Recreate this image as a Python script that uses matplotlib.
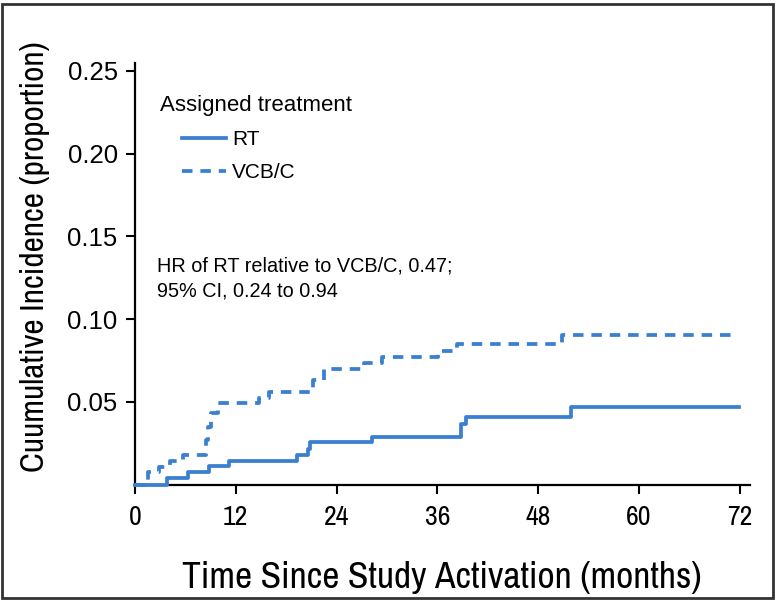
import matplotlib
matplotlib.use('Agg')
import matplotlib.pyplot as plt
from matplotlib import font_manager
from matplotlib.patches import Rectangle

# step curves (months, cumulative incidence)
rt_months = [0, 3.85, 6.35, 8.8, 11.2, 19.25, 20.55, 20.8, 28.2, 38.8, 39.4, 51.9, 71.9]
rt_values = [0, 0.0041, 0.0074, 0.0110, 0.0145, 0.0180, 0.0217, 0.0255, 0.0289, 0.0366, 0.0406, 0.0467, 0.0467]

vcb_months = [0, 1.5, 2.9, 4.2, 5.75, 8.45, 8.7, 9.1, 9.9, 14.7, 16.0, 21.2, 22.5, 27.2, 29.4, 36.1, 38.3, 50.8, 71.0]
vcb_values = [0, 0.0077, 0.0108, 0.0144, 0.0178, 0.027, 0.035, 0.043, 0.049, 0.0525, 0.0557, 0.063, 0.0698,
              0.0737, 0.0773, 0.081, 0.085, 0.0904, 0.0904]

x_ticks = [0, 12, 24, 36, 48, 60, 72]
y_ticks = [0.05, 0.10, 0.15, 0.20, 0.25]

blue = '#3a7fd0'
regular = ['Liberation Sans', 'DejaVu Sans']


def pick_condensed():
    faces = font_manager.fontManager.ttflist
    for name in ['Archivo Narrow', 'Asap Condensed', 'DejaVu Sans']:
        for f in faces:
            if f.name == name and f.weight in (400, 'normal') and f.style == 'normal' \
                    and (name != 'DejaVu Sans' or 'ondensed' in str(f.stretch)):
                return font_manager.FontProperties(fname=f.fname)
    return font_manager.FontProperties(family='Liberation Sans')


cond_prop = pick_condensed()

W, H = 777, 602
fig = plt.figure(figsize=(W / 100, H / 100), dpi=100)
ax = fig.add_axes([135 / W, 1 - 484.5 / H, (750 - 135) / W, (484.5 - 63) / H])

rt_line, = ax.step(rt_months, rt_values, where='post', color=blue, lw=2.7,
                   clip_on=False, zorder=4, label='RT')
vcb_line, = ax.step(vcb_months, vcb_values, where='post', color=blue, lw=2.7,
                    linestyle=(0, (2.8, 2.1)), clip_on=False, zorder=4, label='VCB/C')

ax.set_xlim(0, 73.2)
ax.set_ylim(0, 0.2548)
ax.set_xticks(x_ticks)
ax.set_xticklabels([str(t) for t in x_ticks], fontproperties=cond_prop, fontsize=20)
ax.set_yticks(y_ticks)
ax.set_yticklabels(['%.2f' % t for t in y_ticks], fontfamily=regular, fontsize=18.5)
ax.tick_params(axis='both', direction='out', length=6.5, width=1.5, color='black')
ax.tick_params(axis='x', pad=8)
ax.tick_params(axis='y', pad=6)

for side in ['top', 'right']:
    ax.spines[side].set_visible(False)
for side in ['left', 'bottom']:
    ax.spines[side].set_linewidth(1.6)

fig.text(442 / W, 1 - 578 / H, 'Time Since Study Activation (months)',
         ha='center', va='center', fontproperties=cond_prop, fontsize=27)
fig.text(35 / W, 1 - 257 / H, 'Cuumulative Incidence (proportion)',
         ha='center', va='center', rotation=90, fontproperties=cond_prop, fontsize=24)

# legend
fig.text(160 / W, 1 - 105 / H, 'Assigned treatment', ha='left', va='center',
         fontsize=16, family=regular)
leg = ax.legend(handles=[rt_line, vcb_line], loc='upper left',
                bbox_to_anchor=(182 / W, 1 - 130 / H), bbox_transform=fig.transFigure,
                frameon=False, borderpad=0, borderaxespad=0, handlelength=2.1,
                handletextpad=0.3, labelspacing=0.68, prop={'family': regular, 'size': 15})

fig.text(157 / W, 1 - 256 / H, 'HR of RT relative to VCB/C, 0.47;\n95% CI, 0.24 to 0.94',
         ha='left', va='top', fontsize=14.3, family=regular, linespacing=1.42)

fig.patches.append(Rectangle((2 / W, 4 / H), (773 - 2) / W, (598 - 4) / H, transform=fig.transFigure,
                             fill=False, lw=2, edgecolor='#333333'))

fig.savefig('out.png', dpi=100)
